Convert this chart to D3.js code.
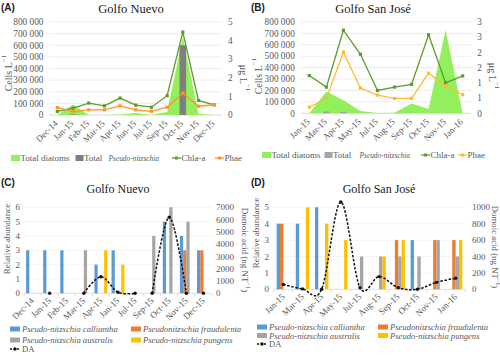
<!DOCTYPE html>
<html><head><meta charset="utf-8">
<script src="https://cdn.jsdelivr.net/npm/d3@7"></script>
<style>
html,body{margin:0;padding:0;background:#fff;}
svg{display:block;}
</style></head><body>
<svg id="chart" width="500" height="356" font-family="'Liberation Serif','Times New Roman',serif"></svg>
<script>
// ---------- DATA ----------
// Panel A – Golfo Nuevo
const catsA = ["Dec-14","Jan-15","Feb-15","Mar-15","Apr-15","Jun-15","Jul-15","Sep-15","Oct-15","Nov-15","Dec-15"];
const diatomsA = [0, 90000, 0, 0, 5000, 18000, 0, 25000, 670000, 10000, 0];
const pnA = [0, 5000, 0, 0, 0, 0, 0, 0, 600000, 0, 0];
const chlaA = [0.19, 0.37, 0.64, 0.49, 0.91, 0.53, 0.42, 1.04, 4.46, 0.78, 0.55];
const phaeA = [0.40, 0.20, 0.28, 0.28, 0.49, 0.28, 0.20, 0.42, 1.18, 0.47, 0.55];
const rightTicksA = [0,1,2,3,4,5];

// Panel B – Golfo San José
const catsB = ["Jan-15","Mar-15","Apr-15","May-15","Jul-15","Aug-15","Sep-15","Oct-15","Nov-15","Jan-16"];
const diatomsB = [0, 190000, 115000, 20000, 3000, 5000, 85000, 37000, 730000, 0];
const pnB = [0, 17000, 12000, 0, 0, 0, 0, 0, 0, 0];
const chlaB = [1.24, 0.86, 2.73, 1.94, 0.75, 0.86, 0.95, 2.58, 1.00, 1.23];
const phaeB = [0.20, 0.49, 2.01, 0.83, 0.60, 0.49, 0.49, 1.32, 0.90, 0.61];
const rightTicksB = [0,0.5,1,1.5,2,2.5,3];

const leftTicksTop = [0,100000,200000,300000,400000,500000,600000,700000,800000];

// Panel C – Golfo Nuevo
const catsC = ["Dec-14","Jan-15","Feb-15","Mar-15","Apr-15","Jan-15","Jul-15","Sep-15","Oct-15","Nov-15","Dec-15"];
const calliC = [3,3,3,0,2,3,0,0,5,4,3];
const fraudC = [0,0,0,0,0,0,0,0,0,3,3];
const austC  = [0,0,0,3,0,0,0,4,6,5,0];
const pungC  = [0,0,0,0,3,2,0,0,0,0,0];
const daC = [null, 0, null, 0, 1350, 80, 0, 0, 6200, 0, 0];
const daRunsC = [[3,6],[7,9]];
const leftTicksC = [0,1,2,3,4,5,6];
const rightTicksC = [0,1000,2000,3000,4000,5000,6000,7000];

// Panel D – Golfo San José
const catsD = ["Jan-15","Mar-15","Apr-15","May-15","Jul-15","Aug-15","Sep-15","Oct-15","Nov-15","Jan-16"];
const calliD = [4,4,5,0,0,0,0,3,0,0];
const fraudD = [4,0,0,0,0,0,3,0,3,3];
const austD  = [0,0,0,0,2,2,2,2,3,2];
const pungD  = [0,5,4,3,0,2,3,0,0,3];
const daD = [60, 5, 0, 1065, 20, 155, 20, 0, 85, 135];
const daRunsD = [[0,9]];
const leftTicksD = [0,1,2,3,4,5];
const rightTicksD = [0,200,400,600,800,1000];

const speciesNames = ["Pseudo-nitzschia calliantha","Pseudonitzschia fraudulenta","Pseudo-nitzschia australis","Pseudo-nitzschia pungens"];

// ---------- STYLE ----------
const SERIF = "'Liberation Serif','Times New Roman',serif";
const SANS = "'Liberation Sans',Arial,sans-serif";
const GRAY = "#595959";
const C_AREA = "#92f05c", C_CHLA = "#5e9b2e", C_PHAE_A = "#ff9226", C_PHAE_B = "#ffba2e";
const C_SPEC = ["#5b9bd5","#ed7d31","#a5a5a5","#ffc000"];
const fmtSp = d3.formatLocale({decimal:".",thousands:" ",grouping:[3],currency:["",""]}).format(",");

const svg = d3.select("#chart");

function T(sel){ return sel.append("text").attr("font-family",SERIF); }

function panelLabel(x,y,t){
  svg.append("text").attr("x",x).attr("y",y)
    .attr("font-family",SANS).attr("font-weight","bold")
    .attr("font-size",10).attr("fill","#1a1a1a").text(t);
}
function titleText(x,y,t,size){
  T(svg).attr("x",x).attr("y",y).attr("text-anchor","middle")
    .attr("font-size",size).attr("fill","#1a1a1a").text(t);
}
function rotTitle(x,y,angle,parts,size){
  const t = T(svg).attr("transform",`translate(${x},${y}) rotate(${angle})`)
    .attr("text-anchor","middle").attr("dominant-baseline","central")
    .attr("font-size",size).attr("fill",GRAY);
  parts.forEach(p=>{
    const s = t.append("tspan").text(p.t);
    if(p.sup){ s.attr("font-size",size*0.7).attr("baseline-shift","super"); }
  });
}
function xLabels(g, x, cats, yb, size, dx, dy){
  cats.forEach((c,i)=>{
    const cx = x(i)+x.bandwidth()/2;
    T(g).attr("transform",`translate(${cx+dx},${yb+dy}) rotate(-45)`)
      .attr("text-anchor","end").attr("font-size",size).attr("fill",GRAY).text(c);
  });
}

// ---------- TOP PANELS ----------
function drawTop(o){
  const g = svg.append("g").attr("font-family",SERIF);
  const x = d3.scaleBand().domain(d3.range(o.cats.length)).range([o.x0,o.x1]);
  const cx = i => x(i)+x.bandwidth()/2;
  const yL = d3.scaleLinear().domain([0,800000]).range([o.yb,o.yt]);
  const yR = d3.scaleLinear().domain([0,o.rMax]).range([o.yb,o.yt]);

  g.selectAll("line.grid").data(leftTicksTop).join("line")
    .attr("x1",o.x0).attr("x2",o.x1).attr("y1",d=>yL(d)).attr("y2",d=>yL(d))
    .attr("stroke",d=>d===0?"#d0d0d0":"#e8e8e8").attr("stroke-width",0.8);
  g.selectAll("text.yl").data(leftTicksTop).join("text").attr("font-family",SERIF)
    .attr("x",o.x0-6).attr("y",d=>yL(d)).attr("dy","0.35em").attr("text-anchor","end")
    .attr("font-size",9.3).attr("fill",GRAY).text(d=>d===0?"0":fmtSp(d));
  g.selectAll("text.yr").data(o.rTicks).join("text").attr("font-family",SERIF)
    .attr("x",o.x1+6).attr("y",d=>yR(d)).attr("dy","0.35em").attr("text-anchor","start")
    .attr("font-size",9.3).attr("fill",GRAY).text(d=>Math.round(d));

  const area = d3.area().x((d,i)=>cx(i)).y0(yL(0)).y1(d=>yL(d));
  g.append("path").datum(o.diatoms).attr("d",area).attr("fill",C_AREA);

  g.selectAll("rect.pn").data(o.pn).join("rect")
    .attr("x",(d,i)=>cx(i)-3.3).attr("width",6.6)
    .attr("y",d=>yL(d)).attr("height",d=>yL(0)-yL(d)).attr("fill",o.pnColor);

  [[o.chla,C_CHLA],[o.phae,o.phaeColor]].forEach(([arr,col])=>{
    const line = d3.line().x((d,i)=>cx(i)).y(d=>yR(d));
    g.append("path").datum(arr).attr("d",line).attr("fill","none").attr("stroke",col).attr("stroke-width",1.3);
    g.selectAll(null).data(arr).join("rect")
      .attr("x",(d,i)=>cx(i)-1.6).attr("y",d=>yR(d)-1.6).attr("width",3.2).attr("height",3.2).attr("fill",col);
  });

  xLabels(g, x, o.cats, o.yb, 9, 1, 9);

  // legend
  const ly = o.legY;
  const L = o.leg;
  g.append("rect").attr("x",L[0]).attr("y",ly-3).attr("width",9).attr("height",6).attr("fill",C_AREA);
  T(g).attr("x",L[0]+9.5).attr("y",ly).attr("dy","0.35em").attr("font-size",9).attr("fill",GRAY).text("Total diatoms");
  g.append("rect").attr("x",L[1]).attr("y",ly-3).attr("width",8).attr("height",6).attr("fill",o.pnColor);
  T(g).attr("x",L[1]+8.5).attr("y",ly).attr("dy","0.35em").attr("font-size",9).attr("fill",GRAY).text("Total");
  T(g).attr("x",L[2]).attr("y",ly).attr("dy","0.35em").attr("font-size",7.4).attr("font-style","italic").attr("fill",GRAY).text("Pseudo-nitzschia");
  [[L[3],C_CHLA,"Chla-a"],[L[4],o.phaeColor,"Phae"]].forEach(([lx,col,t])=>{
    g.append("line").attr("x1",lx).attr("x2",lx+9).attr("y1",ly).attr("y2",ly).attr("stroke",col).attr("stroke-width",1.3);
    g.append("rect").attr("x",lx+3).attr("y",ly-1.5).attr("width",3).attr("height",3).attr("fill",col);
    T(g).attr("x",lx+9.5).attr("y",ly).attr("dy","0.35em").attr("font-size",9).attr("fill",GRAY).text(t);
  });
}

// ---------- BOTTOM PANELS ----------
function drawBottom(o){
  const g = svg.append("g").attr("font-family",SERIF);
  const x = d3.scaleBand().domain(d3.range(o.cats.length)).range([o.x0,o.x1]);
  const cx = i => x(i)+x.bandwidth()/2;
  const yL = d3.scaleLinear().domain([0,o.lMax]).range([o.yb,o.yt]);
  const yR = d3.scaleLinear().domain([0,o.rMax]).range([o.yb,o.yt]);
  const bw = o.bw;
  const x1 = d3.scaleBand().domain(d3.range(4)).range([-2*bw,2*bw]);

  g.selectAll("line.grid").data(o.lTicks.slice(1)).join("line")
    .attr("x1",o.x0).attr("x2",o.x1).attr("y1",d=>yL(d)).attr("y2",d=>yL(d))
    .attr("stroke","#f1f1f1").attr("stroke-width",0.8);
  g.append("line").attr("x1",o.x0).attr("x2",o.x1).attr("y1",o.yb).attr("y2",o.yb).attr("stroke","#d6d6d6").attr("stroke-width",0.8);
  g.selectAll("line.tk").data(d3.range(o.cats.length+1)).join("line")
    .attr("x1",i=>o.x0+i*x.bandwidth()).attr("x2",i=>o.x0+i*x.bandwidth())
    .attr("y1",o.yb).attr("y2",o.yb+3).attr("stroke","#d6d6d6").attr("stroke-width",0.8);

  g.selectAll("text.yl").data(o.lTicks).join("text").attr("font-family",SERIF)
    .attr("x",o.lLabX).attr("y",d=>yL(d)).attr("dy","0.35em").attr("text-anchor","end")
    .attr("font-size",9).attr("fill",GRAY).text(d=>d);
  g.selectAll("text.yr").data(o.rTicks).join("text").attr("font-family",SERIF)
    .attr("x",o.rLabX).attr("y",d=>yR(d)).attr("dy","0.35em").attr("text-anchor","start")
    .attr("font-size",9).attr("fill",GRAY).text(d=>d);

  o.series.forEach((arr,s)=>{
    g.selectAll(null).data(arr).join("rect")
      .attr("x",(d,i)=>cx(i)+x1(s)).attr("width",x1.bandwidth())
      .attr("y",d=>yL(d)).attr("height",d=>yL(0)-yL(d)).attr("fill",C_SPEC[s]);
  });

  const line = d3.line().x(d=>cx(d.i)).y(d=>yR(d.v)).curve(d3.curveCatmullRom.alpha(0));
  o.runs.forEach(([a,b])=>{
    const pts = d3.range(a,b+1).map(i=>({i,v:o.da[i]}));
    g.append("path").datum(pts).attr("d",line).attr("fill","none").attr("stroke","#111")
      .attr("stroke-width",1.5).attr("stroke-dasharray","2.5,1.6");
  });
  g.selectAll(null).data(o.da.map((v,i)=>({i,v})).filter(d=>d.v!==null)).join("circle")
    .attr("cx",d=>cx(d.i)).attr("cy",d=>yR(d.v)).attr("r",1.7).attr("fill","#111");

  xLabels(g, x, o.cats, o.yb, 9, 2, 8);

  // legend
  const [c1,c2] = o.legX, rows = o.legY;
  const pos = [[c1,rows[0]],[c2,rows[0]],[c1,rows[1]],[c2,rows[1]]];
  speciesNames.forEach((n,s)=>{
    const [lx,ly] = pos[s];
    g.append("rect").attr("x",lx).attr("y",ly-2.5).attr("width",10).attr("height",5).attr("fill",C_SPEC[s]);
    T(g).attr("x",lx+12).attr("y",ly).attr("dy","0.35em").attr("font-size",8.6)
      .attr("font-style","italic").attr("fill",GRAY).text(n);
  });
  const ly = rows[2];
  g.append("line").attr("x1",c1).attr("x2",c1+10).attr("y1",ly).attr("y2",ly).attr("stroke","#111").attr("stroke-width",1.5).attr("stroke-dasharray","2,1.5");
  g.append("circle").attr("cx",c1+5).attr("cy",ly).attr("r",1.7).attr("fill","#111");
  T(g).attr("x",c1+12).attr("y",ly).attr("dy","0.35em").attr("font-size",8.6).attr("fill",GRAY).text("DA");
}

// ---------- DRAW ----------
panelLabel(1,11,"(A)");
titleText(131,13,"Golfo Nuevo",12.5);
drawTop({cats:catsA, diatoms:diatomsA, pn:pnA, chla:chlaA, phae:phaeA, rMax:5, rTicks:rightTicksA,
  pnColor:"#7f7f7f", phaeColor:C_PHAE_A, x0:49.5, x1:222, yb:115, yt:22,
  legY:158, leg:[11,75.5,108.5,172,215]});
rotTitle(8,73,-90,[{t:"Cells L"},{t:"−1",sup:true}],10);
rotTitle(244,78,90,[{t:"μg L"},{t:"−1",sup:true}],10);

panelLabel(251,11,"(B)");
titleText(373,13,"Golfo San José",12.5);
drawTop({cats:catsB, diatoms:diatomsB, pn:pnB, chla:chlaB, phae:phaeB, rMax:3, rTicks:rightTicksB,
  pnColor:"#a6a6a6", phaeColor:C_PHAE_B, x0:300.8, x1:471.2, yb:113.3, yt:22,
  legY:155, leg:[262,324.5,359.5,421,458]});
rotTitle(258,76,-90,[{t:"Cells L"},{t:"−1",sup:true}],10);
rotTitle(493,76,90,[{t:"μg L"},{t:"−1",sup:true}],10);

panelLabel(1,186,"(C)");
titleText(118,193,"Golfo Nuevo",12);
drawBottom({cats:catsC, series:[calliC,fraudC,austC,pungC], da:daC, runs:daRunsC,
  lMax:6, rMax:7000, lTicks:leftTicksC, rTicks:rightTicksC, x0:24, x1:212, yb:293.3, yt:207.3, bw:3.23,
  lLabX:20, rLabX:216, legX:[10,131], legY:[329,340,349]});
rotTitle(7,239,-90,[{t:"Relative abundance"}],9);
rotTitle(245,250,90,[{t:"Domoic acid (ng NT"},{t:"−1",sup:true},{t:")"}],9);

panelLabel(251,186,"(D)");
titleText(379,193,"Golfo San José",12);
drawBottom({cats:catsD, series:[calliD,fraudD,austD,pungD], da:daD, runs:daRunsD,
  lMax:5, rMax:1000, lTicks:leftTicksD, rTicks:rightTicksD, x0:273.8, x1:465.2, yb:289.3, yt:207.3, bw:3.35,
  lLabX:269, rLabX:472, legX:[257,378], legY:[327,335.5,344]});
rotTitle(256,233,-90,[{t:"Relative abundance"}],9);
rotTitle(495,247,90,[{t:"Domoic acid (ng NT"},{t:"−1",sup:true},{t:")"}],8.8);
</script>
</body></html>
